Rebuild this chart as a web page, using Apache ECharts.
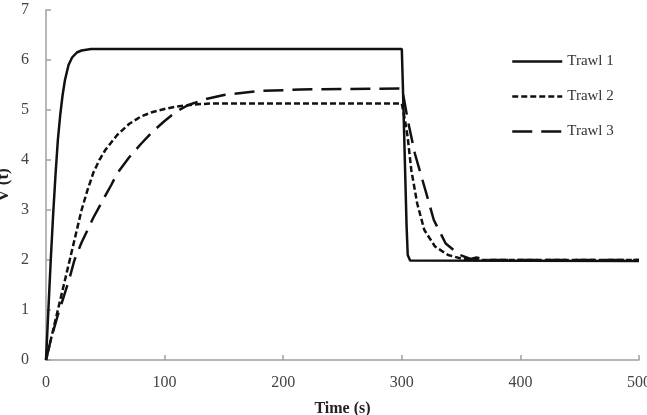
<!DOCTYPE html>
<html>
<head>
<meta charset="utf-8">
<script src="https://cdn.jsdelivr.net/npm/echarts@6/dist/echarts.min.js"></script>
<style>
html, body { margin: 0; padding: 0; background: #fff; }
#container { width: 647px; height: 415px; }
</style>
</head>
<body>
<div id="container"></div>
<script>
var dom = document.getElementById("container");
var myChart = echarts.init(dom);

// values
var seriesNames = ['Trawl 1', 'Trawl 2', 'Trawl 3'];
var dashes = ['solid', [6, 3], [20, 9]];

var time1 = [0, 2, 4, 6, 8, 10, 12, 14, 16, 19, 22, 26, 30, 38, 300, 301, 302, 303, 304, 305, 307, 500];
var volt1 = [0, 1.0, 2.0, 2.9, 3.7, 4.4, 4.9, 5.3, 5.6, 5.9, 6.05, 6.15, 6.19, 6.22, 6.22, 5.4, 4.5, 3.6, 2.7, 2.1, 1.99, 1.98];

var time2 = [0, 5, 10, 15, 20, 25, 30, 35, 40, 45, 50, 60, 70, 80, 90, 100, 110, 125, 140, 300,
    301, 303, 305, 308, 313, 319, 328, 339, 350, 362, 500];
var volt2 = [0, 0.5, 1.0, 1.5, 2.0, 2.5, 3.0, 3.4, 3.75, 4.0, 4.2, 4.5, 4.72, 4.87, 4.96, 5.02, 5.07, 5.11, 5.13, 5.13,
    5.1, 4.75, 4.45, 3.8, 3.13, 2.6, 2.27, 2.1, 2.03, 2.0, 2.0];

var time3 = [0, 4, 10, 15, 20, 24, 30, 35, 40, 48, 55, 60, 70, 80, 90, 100, 110, 120, 135, 150, 180, 215, 250, 300,
    302, 305, 311, 319, 327, 337, 349, 358, 363, 372, 500];
var volt3 = [0, 0.4, 0.9, 1.27, 1.65, 2.0, 2.35, 2.6, 2.85, 3.2, 3.5, 3.73, 4.05, 4.32, 4.57, 4.78, 4.97, 5.1, 5.22, 5.3, 5.38, 5.41, 5.42, 5.43,
    5.2, 4.8, 4.13, 3.47, 2.8, 2.33, 2.1, 2.02, 2.05, 2.0, 2.0];

var xTicks = [0, 100, 200, 300, 400, 500];
var yTicks = [0, 1, 2, 3, 4, 5, 6, 7];

function pairs(t, v) {
    var out = [];
    for (var i = 0; i < t.length; i++) {
        out.push([t[i], v[i]]);
    }
    return out;
}

var serif = '"Liberation Serif", "Times New Roman", serif';
var axisGray = '#a0a0a0';
var ink = '#111';

var allTimes = [time1, time2, time3];
var allVolts = [volt1, volt2, volt3];

var series = [];
var legendData = [];
for (var k = 0; k < seriesNames.length; k++) {
    series.push({
        name: seriesNames[k],
        type: 'line',
        showSymbol: false,
        symbol: 'none',
        data: pairs(allTimes[k], allVolts[k]),
        lineStyle: { color: ink, width: 2.5, type: dashes[k] },
        itemStyle: { color: ink }
    });
    legendData.push({
        name: seriesNames[k],
        itemStyle: { opacity: 0 },
        lineStyle: { color: ink, width: 2.5, type: dashes[k] }
    });
}

var option = {
    animation: false,
    backgroundColor: '#fff',
    grid: { left: 46, right: 8, top: 10, bottom: 55, containLabel: false, outerBoundsMode: 'none' },
    legend: {
        orient: 'vertical',
        left: 506,
        top: 49,
        itemWidth: 50,
        itemHeight: 14,
        itemGap: 20,
        textStyle: { fontFamily: serif, fontSize: 15, color: '#333' },
        data: legendData
    },
    xAxis: {
        type: 'value',
        min: xTicks[0],
        max: xTicks[xTicks.length - 1],
        interval: 100,
        name: 'Time (s)',
        nameLocation: 'middle',
        nameGap: 41,
        nameTextStyle: { fontFamily: serif, fontSize: 16, fontWeight: 'bold', color: '#222' },
        axisLine: { lineStyle: { color: axisGray, width: 1.5 } },
        axisTick: { inside: true, length: 5, lineStyle: { color: axisGray, width: 1.5 } },
        axisLabel: { fontFamily: serif, fontSize: 16, color: '#444', margin: 15 },
        splitLine: { show: false }
    },
    yAxis: {
        type: 'value',
        min: yTicks[0],
        max: yTicks[yTicks.length - 1],
        interval: 1,
        name: 'V (t)',
        nameLocation: 'middle',
        nameRotate: 90,
        nameGap: 34,
        nameMoveOverlap: false,
        nameTextStyle: { fontFamily: serif, fontSize: 17, fontWeight: 'bold', color: '#222' },
        axisLine: { show: true, lineStyle: { color: axisGray, width: 1.5 } },
        axisTick: { show: true, inside: true, length: 5, lineStyle: { color: axisGray, width: 1.5 } },
        axisLabel: { fontFamily: serif, fontSize: 16, color: '#444', margin: 17 },
        splitLine: { show: false }
    },
    series: series
};

myChart.setOption(option, true);
</script>
</body>
</html>
